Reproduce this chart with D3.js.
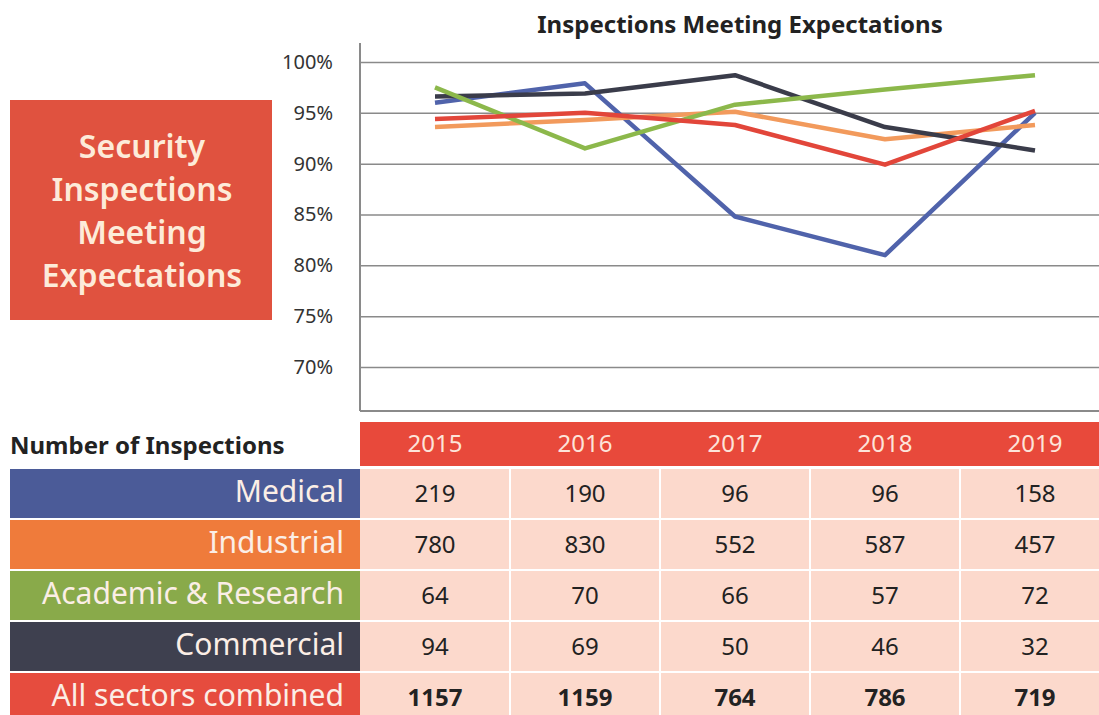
<!DOCTYPE html>
<html>
<head>
<meta charset="utf-8">
<script src="https://cdn.jsdelivr.net/npm/d3@7"></script>
<style>
  body { margin: 0; background: #fff; }
  svg { display: block; font-family: "Noto Sans", "Open Sans", sans-serif; }
</style>
</head>
<body>
<div id="chart"></div>
<script>
// Chart data
const years = ["2015", "2016", "2017", "2018", "2019"];
const sectors = ["Medical", "Industrial", "Academic & Research", "Commercial", "All sectors combined"];
const yTicks = [70, 75, 80, 85, 90, 95, 100];

// % of inspections meeting expectations
const pctMedical    = [96.0, 97.9, 84.8, 81.0, 95.0];
const pctIndustrial = [93.6, 94.3, 95.1, 92.4, 93.8];
const pctAcademic   = [97.5, 91.5, 95.8, 97.3, 98.7];
const pctCommercial = [96.6, 96.9, 98.7, 93.6, 91.3];
const pctAll        = [94.4, 95.0, 93.8, 89.9, 95.2];

// number of inspections (table)
const cntMedical    = [219, 190, 96, 96, 158];
const cntIndustrial = [780, 830, 552, 587, 457];
const cntAcademic   = [64, 70, 66, 57, 72];
const cntCommercial = [94, 69, 50, 46, 32];
const cntAll        = [1157, 1159, 764, 786, 719];

const width = 1099;
const height = 715;

const lineColors = ["#5063ab", "#f29a5c", "#8cb84b", "#3a3c4a", "#e2463a"];
const labelColors = ["#4b5b98", "#ef7b3b", "#89aa4a", "#3e404f", "#e64c3e"];

const svg = d3.select("#chart")
  .append("svg")
  .attr("width", width)
  .attr("height", height);

// x scale shared by lines and table columns
const xScale = d3.scaleBand()
  .domain(years)
  .range([360, 1110]);

const yScale = d3.scaleLinear()
  .domain([70, 100])
  .range([367, 62]);

const plotBottom = 411;

// title
svg.append("text")
  .attr("x", 740)
  .attr("y", 33)
  .attr("text-anchor", "middle")
  .attr("font-size", "24px")
  .attr("font-weight", "bold")
  .attr("fill", "#222")
  .text("Inspections Meeting Expectations");

// red side box
svg.append("rect")
  .attr("x", 10).attr("y", 100)
  .attr("width", 262).attr("height", 220)
  .attr("fill", "#e0523f");

const boxLines = ["Security", "Inspections", "Meeting", "Expectations"];
svg.append("g")
  .selectAll("text")
  .data(boxLines)
  .enter()
  .append("text")
    .attr("x", 142)
    .attr("y", (d, i) => 158 + i * 43)
    .attr("text-anchor", "middle")
    .attr("font-size", "32px")
    .attr("font-weight", 600)
    .attr("fill", "#fdebd9")
    .text(d => d);

// gridlines + y labels
const yAxis = svg.append("g")
  .attr("transform", "translate(360,0)")
  .call(d3.axisLeft(yScale)
    .tickValues(yTicks)
    .tickSize(-(width - 360))
    .tickPadding(27)
    .tickFormat(d => d + "%"));
yAxis.select(".domain").remove();
yAxis.selectAll(".tick line").attr("stroke", "#8a8a8a").attr("stroke-width", 1.5);
yAxis.selectAll(".tick text")
  .attr("font-size", "20px")
  .attr("fill", "#333")
  .attr("font-family", "\"Noto Sans\", sans-serif");

// axis lines
svg.append("line")
  .attr("x1", 360).attr("x2", 360)
  .attr("y1", 43).attr("y2", plotBottom)
  .attr("stroke", "#8a8a8a").attr("stroke-width", 2);
svg.append("line")
  .attr("x1", 360).attr("x2", width)
  .attr("y1", plotBottom).attr("y2", plotBottom)
  .attr("stroke", "#8a8a8a").attr("stroke-width", 2);

// lines
const series = [pctMedical, pctIndustrial, pctAcademic, pctCommercial, pctAll];
const drawOrder = [0, 1, 3, 2, 4];
const line = d3.line()
  .x((d, i) => xScale(years[i]) + xScale.bandwidth() / 2)
  .y(d => yScale(d));

svg.append("g")
  .selectAll("path")
  .data(drawOrder)
  .enter()
  .append("path")
    .attr("d", k => line(series[k]))
    .attr("fill", "none")
    .attr("stroke", k => lineColors[k])
    .attr("stroke-width", 4.5)
    .attr("stroke-linejoin", "round");

// table
const counts = [cntMedical, cntIndustrial, cntAcademic, cntCommercial, cntAll];
const rowH = 51;
const tableTop = 468;

svg.append("text")
  .attr("x", 10)
  .attr("y", 454)
  .attr("font-size", "24px")
  .attr("font-weight", "bold")
  .attr("fill", "#222")
  .text("Number of Inspections");

// header
svg.append("rect")
  .attr("x", 360).attr("y", 422)
  .attr("width", width - 360).attr("height", 44)
  .attr("fill", "#e8493b");
svg.append("g")
  .selectAll("text")
  .data(years)
  .enter()
  .append("text")
    .attr("x", d => xScale(d) + xScale.bandwidth() / 2)
    .attr("y", 452)
    .attr("text-anchor", "middle")
    .attr("font-size", "24px")
    .attr("fill", "#fde4da")
    .text(d => d);

const rows = svg.append("g")
  .selectAll("g")
  .data(sectors)
  .enter()
  .append("g")
    .attr("transform", (d, i) => `translate(0,${tableTop + i * rowH})`);

rows.append("rect")
  .attr("x", 10).attr("y", 1)
  .attr("width", 350).attr("height", rowH - 2)
  .attr("fill", (d, i) => labelColors[i]);

rows.append("text")
  .attr("x", 344)
  .attr("y", 34)
  .attr("text-anchor", "end")
  .attr("font-size", "30px")
  .attr("fill", "#fbeee6")
  .text(d => d);

rows.each(function(s, r) {
  const g = d3.select(this);
  g.selectAll("rect.cell")
    .data(counts[r])
    .enter()
    .append("rect")
      .attr("class", "cell")
      .attr("x", (d, i) => xScale(years[i]) + (i === 0 ? 0 : 1))
      .attr("y", 1)
      .attr("width", (d, i) => xScale.bandwidth() - (i === 0 ? 1 : 2))
      .attr("height", rowH - 2)
      .attr("fill", "#fcd9cc");
  g.selectAll("text.val")
    .data(counts[r])
    .enter()
    .append("text")
      .attr("class", "val")
      .attr("x", (d, i) => xScale(years[i]) + xScale.bandwidth() / 2)
      .attr("y", 34)
      .attr("text-anchor", "middle")
      .attr("font-size", "24px")
      .attr("font-weight", r === 4 ? "bold" : "normal")
      .attr("fill", "#222")
      .text(d => d);
});
</script>
</body>
</html>
